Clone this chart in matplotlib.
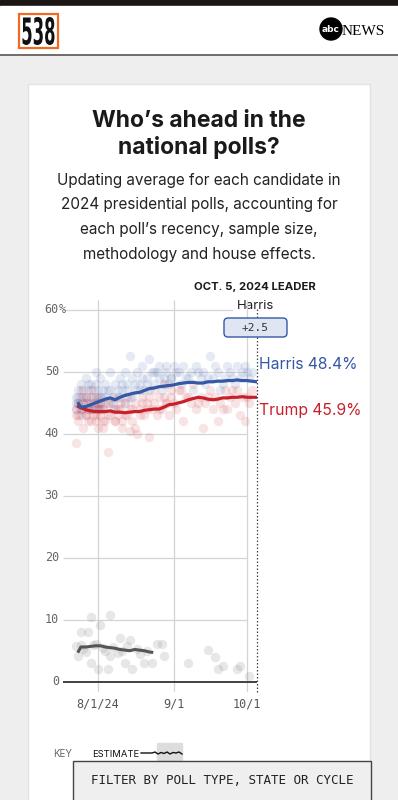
import matplotlib
matplotlib.use("Agg")
import matplotlib.pyplot as plt
from matplotlib.patches import Rectangle, FancyBboxPatch, Circle, PathPatch
from matplotlib.textpath import TextPath
from matplotlib.font_manager import FontProperties
from matplotlib.transforms import Affine2D

# days counted from Aug 1, 2024
line_days = [-8, -7, -5, -3, -1, 1, 3, 5, 7, 9, 11, 13, 15, 17, 19, 21, 23, 25, 27,
             29, 31, 33, 35, 37, 39, 41, 43, 45, 47, 49, 51, 53, 55, 57, 59, 61, 63, 65]
harris_avg = [44.9, 44.3, 44.4, 44.7, 45.0, 45.3, 45.6, 45.8, 45.5, 45.9, 46.2, 46.4, 46.6,
              46.7, 47.0, 47.3, 47.4, 47.6, 47.7, 47.8, 47.9, 48.1, 48.2, 48.3, 48.3, 48.2,
              48.2, 48.4, 48.4, 48.5, 48.5, 48.6, 48.6, 48.7, 48.6, 48.6, 48.5, 48.4]
trump_avg = [44.4, 44.2, 43.9, 43.7, 43.6, 43.6, 43.6, 43.7, 43.5, 43.5, 43.4, 43.5, 43.6,
             43.6, 43.8, 43.9, 44.0, 44.0, 44.3, 44.7, 44.8, 45.0, 45.2, 45.5, 45.7, 45.9,
             45.8, 45.6, 45.5, 45.6, 45.8, 45.8, 45.9, 45.9, 46.0, 45.9, 45.9, 45.9]
other_days = [-8, -7, -5, -3, -1, 1, 3, 5, 7, 9, 11, 13, 15, 17, 19, 21, 22]
other_avg = [4.9, 5.6, 5.6, 5.7, 5.8, 5.8, 5.6, 5.5, 5.4, 5.2, 5.1, 5.0, 5.2, 5.1, 5.0, 4.8, 4.75]

poll_days = [-9, -9, -8, -8, -7, -7, -6, -5, -5, -4,
             -3, -3, -2, -1, 0, 0, 1, 2, 3, 4,
             5, 6, 7, 8, 9, 10, 11, 12, 13, 13,
             14, 15, 16, 17, 18, 19, 20, 21, 22, 23,
             24, 25, 26, 27, 28, 29, 30, 31, 32, 34,
             35, 36, 38, 39, 40, 42, 43, 44, 46, 47,
             48, 49, 50, 52, 53, 54, 56, 57, 58, 59,
             60, 62, 63,
             -9, -8, -7, -6, -6, -5, -4, -4, -3, -2,
             -2, -1, -1, 0, 1, 1, 2, 2, 3, 4,
             5, 6, 7, 8, 9, 10, 11, 12, 14, 15,
             17, 18, 20, 21, 23, 25, 27, 28, 30, 33,
             37, 41, 45, 51, 55, 61]
harris_polls = [46, 44, 47, 45, 48, 43, 46, 49, 45, 47,
                48, 44, 46, 50, 47, 45, 49, 46, 48, 47,
                50, 45, 48, 46, 49, 47, 50, 48, 52.5, 46,
                49, 47, 50, 48, 51, 47, 49, 52, 50, 48,
                50, 51, 47, 49, 50, 48, 49, 51, 50, 48,
                51, 49, 50, 47, 51, 49, 50, 48, 52.5, 49,
                51, 50, 47, 49, 51, 50, 48, 51, 49, 50,
                51, 49, 50,
                45, 46, 44, 47, 45, 46, 48, 44, 45, 47,
                44, 46, 48, 44, 46, 45, 47, 44, 46, 45,
                47, 46, 44, 47, 46, 48, 45, 47, 46, 48,
                47, 49, 48, 47, 50, 49, 48, 51, 49, 50,
                49, 50, 49, 48, 49, 50]
trump_polls = [43, 38.5, 45, 42, 47, 44, 41, 46, 43, 44,
               42, 47, 45, 43, 41, 46, 44, 42, 45, 37,
               43, 46, 42, 44, 45, 41, 43, 46, 44, 40.5,
               42, 45, 40, 44, 46, 43, 45, 39.5, 44, 47,
               43, 46, 44, 48, 45, 43, 47, 45, 44, 47,
               42, 46, 45, 48, 44, 46, 41, 45, 47, 44,
               46, 42, 45, 47, 44, 46, 45, 47, 43, 46,
               42, 45, 47,
               44, 43, 46, 44, 45, 43, 45, 42, 46, 44,
               43, 45, 42, 44, 43, 45, 41, 44, 42, 43,
               45, 44, 42, 43, 44, 42, 45, 43, 44, 41,
               43, 45, 44, 46, 45, 44, 46, 45, 46, 47,
               46, 45, 46, 44, 47, 46]
other_poll_days = [-9, -8, -7, -7, -6, -5, -4, -3, -3, -2,
                   -1, 0, 1, 2, 3, 4, 5, 5, 6, 8,
                   9, 10, 11, 12, 13, 14, 16, 17, 19, 20,
                   22, 24, 26, 27, 37, 45, 48, 49, 51, 57,
                   58, 62]
other_polls = [5.8, 4.2, 8.1, 6.0, 5.2, 4.8, 8.1, 10.5, 3.1, 5.9,
               6.1, 2.0, 9.1, 5.5, 4.9, 2.0, 10.8, 4.1, 5.6, 4.6,
               7.1, 5.0, 3.1, 5.8, 6.7, 2.0, 5.3, 4.5, 3.1, 5.0,
               3.1, 6.1, 6.1, 4.2, 3.1, 5.1, 4.0, 2.0, 2.5, 2.0,
               2.6, 0.9]

xtick_days = [0, 31, 61]
xtick_labels = ["8/1/24", "9/1", "10/1"]
ytick_vals = [0, 10, 20, 30, 40, 50, 60]
leader_day = 65
harris_final, trump_final = 48.4, 45.9

BLUE = "#3557a6"
RED = "#c8202a"
MONO = "DejaVu Sans Mono"
SANS = "Inter"

fig = plt.figure(figsize=(3.98, 8), dpi=100)
fig.patch.set_facecolor("#eeeeee")

# page furniture, in pixel coordinates
bg = fig.add_axes([0, 0, 1, 1])
bg.set_xlim(0, 398)
bg.set_ylim(800, 0)
bg.axis("off")
bg.add_patch(Rectangle((0, 0), 398, 6, color="#1b1613"))
bg.add_patch(Rectangle((0, 6), 398, 48, color="white"))
bg.plot([0, 398], [54.5, 54.5], color="#555555", lw=1.2)
bg.add_patch(Rectangle((28, 84), 342, 720, facecolor="white", edgecolor="#e2e2e2", lw=1))

# 538 logo
bg.add_patch(Rectangle((19, 14), 39, 34, facecolor="white", edgecolor="#f26a21", lw=1.6))
tp = TextPath((0, 0), "538", size=1, prop=FontProperties(family="DejaVu Sans", weight="bold"))
ext = tp.get_extents()
tr = Affine2D().translate(-ext.x0, -ext.y0).scale(32 / ext.width, -28 / ext.height).translate(22.5, 45)
bg.add_patch(PathPatch(tr.transform_path(tp), facecolor="#111111", edgecolor="none"))

# abc news logo
bg.add_patch(Circle((331, 29), 11, color="black"))
bg.text(331, 29.5, "abc", color="white", fontsize=6.5, fontweight="bold", ha="center", va="center",
        family="DejaVu Sans")
bg.text(342, 35, "NEWS", color="black", fontsize=11, family="Liberation Serif", va="baseline")

# headline and dek
bg.text(199, 127, "Who\u2019s ahead in the", fontsize=16.5, fontweight="bold", family=SANS,
        ha="center", va="baseline", color="#1a1a1a")
bg.text(199, 154, "national polls?", fontsize=16.5, fontweight="bold", family=SANS,
        ha="center", va="baseline", color="#1a1a1a")
dek = ["Updating average for each candidate in",
       "2024 presidential polls, accounting for",
       "each poll\u2019s recency, sample size,",
       "methodology and house effects."]
for i, line in enumerate(dek):
    bg.text(199, 185 + i * 24.5, line, fontsize=11, family=SANS, ha="center", va="baseline",
            color="#222222")

bg.text(255, 290, "OCT. 5, 2024 LEADER", fontsize=8.2, fontweight="bold", family=SANS,
        ha="center", va="baseline", color="#1a1a1a")
bg.text(255, 309, "Harris", fontsize=9.5, family=SANS, ha="center", va="baseline", color="#222222")

# chart
ax = fig.add_axes([63 / 398, 1 - 692 / 800, 194 / 398, 392 / 800])
ax.set_facecolor("none")
ax.set_xlim(-14.33, 65.1)
ax.set_ylim(-1.66, 61.6)
ax.axis("off")

for v in ytick_vals[1:]:
    ax.hlines(v, -14.33, 55.3 if v == 60 else 61, color="#d4d4d4", lw=0.9, zorder=1)
ax.vlines(xtick_days, -1.66, 61.6, color="#d4d4d4", lw=0.9, zorder=1)
ax.hlines(0, -14.33, leader_day, color="#333333", lw=1.3, zorder=4)
ax.vlines(leader_day, -1.66, 60.3, color="#444444", lw=0.9, linestyles=(0, (1.2, 1.6)),
          zorder=4, clip_on=False)

# lead box sits over the leader line
ax.add_patch(FancyBboxPatch((224, 318), 63, 19, boxstyle="round,pad=0,rounding_size=4",
                            facecolor="#dfe5f2", edgecolor=BLUE, lw=1, transform=bg.transData,
                            clip_on=False, zorder=6))
ax.text(255.5, 328, "+%.1f" % (harris_final - trump_final), fontsize=8, family=MONO,
        ha="center", va="center", color="#333333", transform=bg.transData, zorder=7)

ax.scatter(poll_days, harris_polls, s=46, color=BLUE, alpha=0.12, lw=0, zorder=2)
ax.scatter(poll_days, trump_polls, s=46, color=RED, alpha=0.12, lw=0, zorder=2)
ax.scatter(other_poll_days, other_polls, s=46, color="#888888", alpha=0.2, lw=0, zorder=2)

ax.plot(other_days, other_avg, color="#555555", lw=2.2, zorder=3)
ax.plot(line_days, trump_avg, color=RED, lw=2.3, zorder=3)
ax.plot(line_days, harris_avg, color=BLUE, lw=2.3, zorder=3)

for v in ytick_vals:
    ax.text(-16, v, str(v), fontsize=8.5, family=MONO, ha="right", va="center", color="#666666",
            clip_on=False)
ax.text(-16, 60, "%", fontsize=8.5, family=MONO, ha="left", va="center", color="#666666",
        clip_on=False)
for d, lab in zip(xtick_days, xtick_labels):
    ax.text(d, -3.6, lab, fontsize=8.5, family=MONO, ha="center", va="center", color="#555555",
            clip_on=False)

ax.text(66, harris_final + 2.8, "Harris %.1f%%" % harris_final, fontsize=11.3, family=SANS,
        color=BLUE, va="center", ha="left", clip_on=False)
ax.text(66, trump_final - 2.2, "Trump %.1f%%" % trump_final, fontsize=11.3, family=SANS,
        color=RED, va="center", ha="left", clip_on=False)

# key
bg.text(53, 757, "KEY", fontsize=7, family=SANS, color="#666666", va="baseline")
bg.text(92, 757, "ESTIMATE", fontsize=6.8, family=SANS, color="#111111", va="baseline")
bg.add_patch(Rectangle((157, 743), 25, 17, color="#dddddd"))
bg.plot([141, 152, 155, 158, 161, 164, 167, 170, 173, 176, 179, 182],
        [753, 753, 752, 754, 752.5, 753.5, 752, 754, 752.5, 753, 752, 754], color="#111111", lw=1)

# filter button
bg.add_patch(Rectangle((73, 760.5), 298, 45, facecolor="#efefef", edgecolor="#444444", lw=1))
bg.text(222, 781, "FILTER BY POLL TYPE, STATE OR CYCLE", fontsize=9, family=MONO,
        ha="center", va="center", color="#222222")

fig.savefig("out.png", dpi=100, facecolor=fig.get_facecolor())
